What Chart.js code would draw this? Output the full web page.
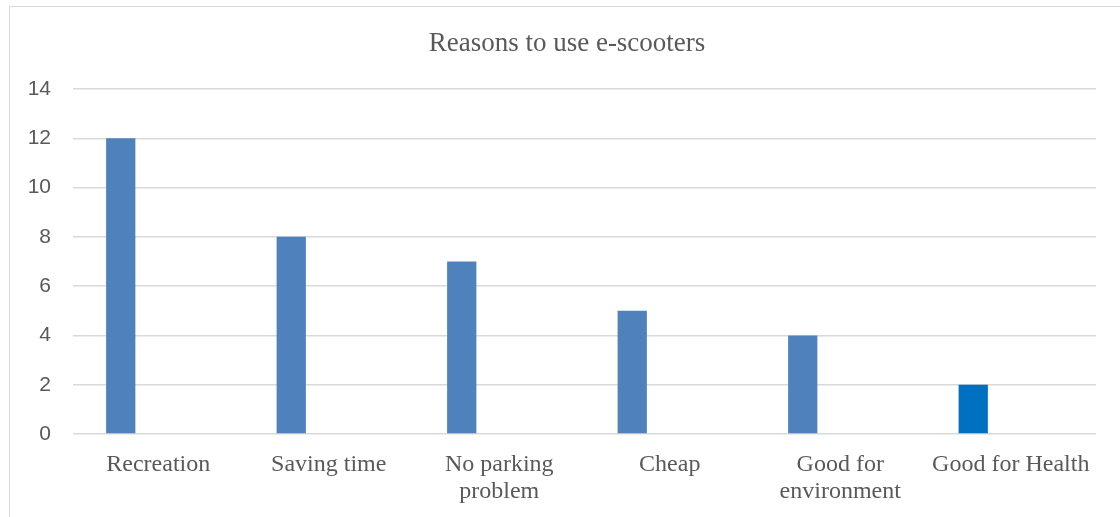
<!DOCTYPE html>
<html>
<head>
<meta charset="utf-8">
<script src="https://cdn.jsdelivr.net/npm/chart.js@4"></script>
<style>
    body { margin: 0; background: #ffffff; overflow: hidden; }
    #frame {
        position: absolute; left: 9px; top: 6px;
        width: 1200px; height: 600px;
        border: 1px solid #d9d9d9;
    }
    #wrap { position: absolute; left: 0; top: 0; width: 1120px; height: 517px; }
</style>
</head>
<body>
<div id="frame"></div>
<div id="wrap"><canvas id="reasonsChart"></canvas></div>
<script>
// Reasons to use e-scooters (count of respondents)
const titleText = 'Reasons to use e-scooters';
const categories = ['Recreation', 'Saving time', ['No parking', 'problem'], 'Cheap', ['Good for', 'environment'], 'Good for Health'];
const counts = [12, 8, 7, 5, 4, 2];
const emptySeries = [null, null, null, null, null, null];
const barColors = ['#4f81bd', '#4f81bd', '#4f81bd', '#4f81bd', '#4f81bd', '#0070c0'];
const yTicks = [0, 2, 4, 6, 8, 10, 12, 14];

const labelColor = '#595959';
const gridColor = '#d9d9d9';
const serif = "'Liberation Serif', 'Times New Roman', serif";

// title is centred on the chart frame, not on the canvas
const frameTitle = {
    id: 'frameTitle',
    afterDraw(chart) {
        const ctx = chart.ctx;
        ctx.save();
        ctx.font = '27px ' + serif;
        ctx.fillStyle = labelColor;
        ctx.textAlign = 'center';
        ctx.textBaseline = 'middle';
        ctx.fillText(titleText, chart.width / 2 + 7, 44);
        ctx.restore();
    }
};

function createReasonsChart() {
    const ctx = document.getElementById('reasonsChart');
    if (!ctx) return null;

    return new Chart(ctx, {
        type: 'bar',
        data: {
            labels: categories,
            datasets: [{
                label: 'Count',
                data: counts,
                backgroundColor: barColors,
                borderWidth: 0
            }, {
                label: '',
                data: emptySeries
            }]
        },
        options: {
            responsive: true,
            maintainAspectRatio: false,
            animation: false,
            categoryPercentage: 0.88,
            barPercentage: 0.39,
            layout: {
                padding: { left: 0, right: 24, top: 89, bottom: 0 }
            },
            plugins: {
                legend: { display: false },
                tooltip: { enabled: false },
                title: { display: false }
            },
            scales: {
                x: {
                    grid: { display: false, drawTicks: false },
                    border: { display: false },
                    ticks: {
                        color: labelColor,
                        padding: 18,
                        maxRotation: 0,
                        autoSkip: false,
                        font: { family: serif, size: 24, lineHeight: 1.1 }
                    },
                    afterFit: function(scale) { scale.height = 83; }
                },
                y: {
                    min: 0,
                    max: 14,
                    afterBuildTicks: function(scale) {
                        scale.ticks = yTicks.map(v => ({ value: v }));
                    },
                    grid: { color: gridColor, lineWidth: 1.5, drawTicks: false },
                    border: { display: false },
                    ticks: {
                        color: labelColor,
                        padding: 22,
                        font: { family: "'Liberation Sans', Arial, sans-serif", size: 21 }
                    },
                    afterFit: function(scale) { scale.width = 73; }
                }
            }
        },
        plugins: [frameTitle]
    });
}

createReasonsChart();
</script>
</body>
</html>
